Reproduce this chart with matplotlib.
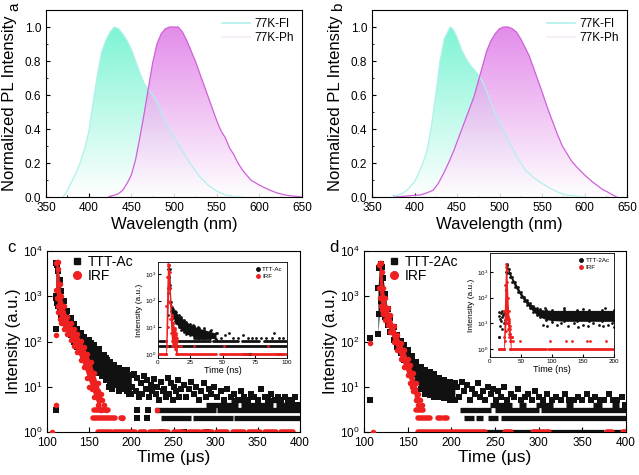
import numpy as np
import matplotlib
matplotlib.use('Agg')
import matplotlib.pyplot as plt
from matplotlib.colors import LinearSegmentedColormap
from matplotlib.lines import Line2D
from matplotlib.ticker import MultipleLocator, FormatStrFormatter, LogLocator, NullLocator

plt.rcParams['font.family'] = ['Liberation Sans', 'DejaVu Sans']
plt.rcParams['mathtext.fontset'] = 'custom'
plt.rcParams['mathtext.rm'] = 'Liberation Sans'

# ---------------- spectra (a, b) ----------------
a_fl_wl = [370, 375, 380, 385, 390, 395, 400, 405, 410, 415, 420, 425, 430, 435, 440, 445,
           450, 455, 460, 465, 470, 475, 480, 490, 500, 510, 520, 530, 540, 550, 560, 570, 580]
a_fl = [0.0, 0.04, 0.09, 0.14, 0.2, 0.28, 0.38, 0.55, 0.71, 0.85, 0.92, 0.97, 1.0, 0.99, 0.96, 0.92,
        0.87, 0.80, 0.73, 0.67, 0.63, 0.60, 0.56, 0.44, 0.35, 0.27, 0.19, 0.12, 0.07, 0.035, 0.012, 0.004, 0.0]
a_ph_wl = [423, 430, 435, 440, 445, 450, 455, 460, 465, 470, 475, 480, 485, 490, 495, 500, 505,
           510, 515, 520, 525, 530, 535, 540, 545, 550, 555, 560, 565, 570, 575, 580, 590, 600,
           610, 620, 630, 640, 650]
a_ph = [0.0, 0.01, 0.02, 0.04, 0.08, 0.13, 0.22, 0.35, 0.49, 0.64, 0.79, 0.90, 0.96, 0.99, 1.0, 1.0, 1.0,
        0.97, 0.92, 0.86, 0.80, 0.73, 0.66, 0.59, 0.52, 0.45, 0.39, 0.35, 0.29, 0.25, 0.20, 0.16, 0.10, 0.07,
        0.045, 0.025, 0.012, 0.005, 0.0]

b_fl_wl = [373, 380, 385, 390, 395, 400, 405, 410, 415, 420, 425, 430, 435, 442, 445, 450, 455, 460,
           465, 470, 475, 480, 485, 490, 495, 500, 510, 520, 530, 540, 550, 560, 570, 580, 590, 600]
b_fl = [0.0, 0.01, 0.02, 0.035, 0.06, 0.09, 0.14, 0.2, 0.28, 0.42, 0.6, 0.8, 0.93, 1.0, 0.99, 0.94, 0.87, 0.82,
        0.78, 0.75, 0.72, 0.68, 0.62, 0.55, 0.49, 0.44, 0.34, 0.24, 0.16, 0.115, 0.08, 0.05, 0.025, 0.01, 0.005, 0.0]
b_ph_wl = [377, 390, 400, 407, 415, 422, 428, 434, 440, 446, 452, 458, 464, 470, 475, 480, 485, 490,
           495, 500, 505, 510, 515, 520, 525, 530, 535, 540, 545, 550, 556, 562, 568, 574, 580, 585,
           591, 597, 603, 609, 615, 621, 627, 632, 638]
b_ph = [0.0, 0.005, 0.01, 0.012, 0.025, 0.04, 0.08, 0.137, 0.2, 0.27, 0.35, 0.43, 0.51, 0.59, 0.68, 0.77,
        0.86, 0.92, 0.96, 0.99, 1.0, 1.0, 0.99, 0.97, 0.93, 0.88, 0.83, 0.76, 0.69, 0.62, 0.53, 0.45, 0.37,
        0.30, 0.25, 0.21, 0.176, 0.145, 0.117, 0.09, 0.068, 0.045, 0.03, 0.015, 0.0]

# ---------------- decay c (TTT-Ac, main, us) ----------------
c_ac_band_t = [110.5, 112, 113.5, 115, 117, 120, 124, 128, 132, 136, 140, 144, 148, 152, 156, 160,
               165, 170, 175, 180, 185, 190, 195, 200]
c_ac_band_hi = [5500, 5000, 3600, 2300, 1300, 800, 470, 330, 240, 190, 155, 128, 108, 92, 75, 62,
                50, 43, 36, 30, 26, 23, 20, 18]
c_ac_band_lo = [900, 700, 600, 480, 380, 300, 200, 140, 100, 75, 58, 45, 36, 30, 25, 20,
                17, 14, 12, 11, 10, 9, 8, 7]
c_ac_sc_t = [110.5, 110.5, 110.5, 150, 156, 162, 168,
             171, 173, 175, 177, 179, 181, 183, 185, 187, 189, 191, 193, 195, 197, 199, 201, 203, 205, 207, 209,
             211, 213, 215, 217, 219, 221, 223, 225, 227, 229, 231, 233, 235, 237, 239, 241, 243, 245, 247,
             249, 251, 253, 255, 257, 259, 262, 265, 268, 271, 274, 277, 280, 283, 286, 289, 292, 295, 298,
             302, 306, 310, 314, 318, 322, 326, 330, 334, 338, 342, 346, 350, 354, 358, 362, 366, 370, 374,
             378, 382, 386, 390, 394, 398, 207, 218, 207, 220, 236, 262, 290]
c_ac_sc_y = [3, 190, 1000, 110, 85, 70, 50,
             40, 10, 32, 9, 27, 12, 25, 8, 22, 11, 20, 9, 24, 7, 18, 10, 19, 8, 16, 6,
             12, 7, 17, 9, 14, 6, 11, 8, 15, 7, 10, 5, 13, 8, 9, 6, 16, 7, 12,
             5, 10, 8, 14, 6, 9, 11, 6, 9, 13, 7, 10, 5, 8, 12, 6, 9, 7, 10,
             6, 8, 5, 9, 6, 7, 5, 8, 6, 5, 7, 6, 5, 9, 6, 5, 7, 5, 6,
             5, 6, 5, 5, 6, 4, 2, 2, 3, 3, 1, 1, 1]
c_ac_row_lvl = [2, 2, 2, 3, 3, 4, 4, 4, 5, 5]
c_ac_row_t0 = [235, 273, 322, 228, 302, 288, 330, 372, 318, 362]
c_ac_row_t1 = [271, 320, 400, 300, 400, 326, 368, 400, 340, 380]

c_irf_band_t = [110.5, 111.5, 112.5, 113.5, 115, 117, 120, 124, 128, 132, 136, 140, 144, 148, 152, 156, 160, 164]
c_irf_band_hi = [5500, 5600, 5600, 4000, 1900, 1000, 600, 340, 250, 190, 150, 105, 75, 52, 35, 20, 12, 7]
c_irf_band_lo = [1400, 900, 600, 450, 320, 250, 190, 150, 110, 80, 58, 40, 27, 16, 10, 6, 4, 3]
c_irf_sc_t = [110.5, 110.5, 105.5, 150, 153, 157, 160, 162, 165, 168, 170, 189, 230]
c_irf_sc_y = [4, 140, 1, 10, 9, 12, 8, 6, 5, 4, 3, 2, 3]
c_irf_row_lvl = [3, 2, 2, 1, 1, 1, 1, 1, 1, 1, 1, 1, 1, 1, 1]
c_irf_row_t0 = [156, 154, 188, 160, 180, 210, 222, 250, 268, 284, 302, 320, 340, 358, 378]
c_irf_row_t1 = [172, 181, 190, 176, 204, 216, 244, 262, 280, 296, 314, 334, 352, 372, 392]

# ---------------- decay d (TTT-2Ac, main, us) ----------------
d_ac_band_t = [116, 117.5, 119, 120.5, 122, 124, 127, 130, 134, 138, 142, 146, 150, 155, 160, 165, 170,
               175, 180, 186, 192, 198, 204]
d_ac_band_hi = [1500, 4200, 5200, 4500, 2500, 1100, 520, 330, 210, 140, 105, 82, 65, 48, 36, 28, 24,
                21, 19, 16, 14, 13, 12]
d_ac_band_lo = [150, 400, 800, 700, 500, 350, 230, 160, 110, 75, 55, 40, 30, 20, 13, 9, 7,
                6.5, 6, 6, 5.5, 5, 5]
d_ac_sc_t = [107, 107, 206, 209, 212, 215, 218, 221, 224, 227, 230, 233, 236, 239, 242, 245, 248, 251,
             254, 257, 260, 264, 268, 272, 276, 280, 284, 288, 292, 296, 300, 305, 310, 315, 320, 325,
             330, 335, 340, 345, 350, 355, 360, 365, 370, 375, 380, 385, 390, 395, 399]
d_ac_sc_y = [5, 117, 10, 6, 13, 8, 11, 5, 9, 7, 12, 6, 8, 5, 10, 7, 9, 5,
             8, 6, 10, 5, 7, 6, 9, 5, 6, 7, 5, 8, 6, 5, 7, 5, 6, 5,
             7, 5, 5, 6, 5, 7, 5, 6, 5, 5, 7, 5, 5, 6, 4]
d_ac_row_lvl = [2, 2, 2, 2, 3, 3, 3, 4, 4, 4, 4, 4, 4, 1, 1, 1]
d_ac_row_t0 = [215, 228, 242, 257, 210, 250, 303, 244, 278, 297, 331, 362, 384, 238, 310, 385]
d_ac_row_t1 = [226, 236, 253, 400, 245, 300, 400, 270, 285, 316, 339, 373, 392, 300, 375, 400]

d_irf_band_t = [117.5, 118.5, 119.5, 120.5, 122, 124, 127, 130, 134, 138, 142, 146, 150, 153, 156, 159, 162]
d_irf_band_hi = [5000, 5500, 5300, 3500, 1500, 900, 550, 380, 220, 140, 95, 65, 42, 30, 20, 12, 7]
d_irf_band_lo = [1500, 900, 600, 500, 400, 300, 230, 160, 100, 65, 42, 28, 18, 12, 8, 5, 4]
d_irf_sc_t = [107, 110, 155, 158, 161, 164, 166]
d_irf_sc_y = [95, 1, 10, 9, 6, 5, 4]
d_irf_row_lvl = [3, 2, 2, 2, 1, 1, 1, 1, 1, 1]
d_irf_row_t0 = [160, 162, 185, 192, 162, 262, 293, 303, 378, 396]
d_irf_row_t1 = [168, 176, 188, 195, 238, 268, 300, 312, 384, 400]

# ---------------- inset c (ns) ----------------
ci_ac_band_t = [7.5, 8, 8.5, 9, 9.5, 10, 11, 12, 13, 14, 16, 18, 20, 22, 25, 28, 32, 36, 40, 45]
ci_ac_band_hi = [300, 1500, 2200, 1500, 400, 90, 55, 48, 42, 36, 29, 24, 19, 16, 13, 11, 9, 8, 7, 6]
ci_ac_band_lo = [30, 200, 800, 300, 90, 40, 28, 22, 17, 14, 10, 8, 6.5, 5.5, 5, 4.5, 4, 4, 4, 3.5]
ci_ac_sc_t = [24, 27, 29, 31, 33, 36, 38, 41, 43, 46, 49, 52, 55, 58, 62, 66, 70, 73, 76, 80, 84, 88, 90, 94, 97]
ci_ac_sc_y = [9, 12, 8, 10, 7, 9, 6, 8, 5, 6, 4, 5, 6, 4, 4, 5, 4, 4, 4, 4, 4, 4, 6, 4, 4]
ci_ac_row_lvl = [2, 3, 3, 3, 3, 3, 4, 1, 1]
ci_ac_row_t0 = [1, 1, 15, 43, 65, 82, 28, 66, 92]
ci_ac_row_t1 = [100, 6, 40, 62, 78, 100, 40, 72, 96]

ci_irf_band_t = [6, 6.5, 7, 7.5, 8, 8.5, 9, 9.5, 10, 10.5, 11, 12, 13, 14, 15]
ci_irf_band_hi = [3, 60, 800, 1900, 2300, 2100, 1200, 300, 60, 30, 20, 14, 9, 6, 4]
ci_irf_band_lo = [1, 1, 2, 10, 100, 300, 80, 20, 6, 3, 2, 2, 1.5, 1, 1]
ci_irf_sc_t = [11, 12, 13, 14, 15, 16, 18, 28, 51, 85]
ci_irf_sc_y = [25, 15, 8, 5, 3, 2, 2, 2, 2, 2]
ci_irf_row_lvl = [1, 1, 1, 1]
ci_irf_row_t0 = [1, 15, 48, 72]
ci_irf_row_t1 = [6, 45, 70, 100]

# ---------------- inset d (ns) ----------------
di_ac_band_t = [25, 26, 27, 28, 30, 33, 36, 40, 45, 50, 55, 60, 65, 70, 75, 80, 90, 100, 120, 140, 160, 180, 200]
di_ac_band_hi = [200, 1000, 2000, 1900, 1300, 900, 620, 420, 260, 160, 110, 80, 60, 48, 40, 35, 33, 32, 32, 32, 32, 32, 32]
di_ac_band_lo = [20, 200, 900, 1300, 900, 620, 420, 270, 170, 110, 75, 52, 38, 28, 22, 18, 14, 13, 12, 12, 12, 12, 12]
di_ac_sc_t = [14, 15, 16, 17, 18, 19, 20, 21, 22, 23, 24, 14, 16, 20, 15, 14,
              85, 92, 100, 108, 115, 125, 135, 142, 150, 158, 166, 175, 182, 190, 197, 200, 88, 120, 150, 185]
di_ac_sc_y = [20, 28, 15, 25, 12, 30, 18, 22, 10, 26, 14, 3, 8, 6, 3, 1,
              9, 8, 11, 9, 10, 8, 10, 7, 9, 8, 10, 9, 8, 9, 10, 7, 40, 38, 36, 38]

di_irf_band_t = [22, 23, 24, 25, 26, 27, 28, 29, 30, 31, 32, 33, 34]
di_irf_band_hi = [3, 30, 300, 1500, 2000, 1200, 400, 100, 30, 15, 8, 4, 3]
di_irf_band_lo = [1, 1, 2, 5, 10, 15, 10, 6, 4, 3, 2, 1, 1]
di_irf_sc_t = [29, 30, 31, 32, 33, 35, 36, 34, 37, 48, 96, 123, 133, 156, 162, 187]
di_irf_sc_y = [18, 10, 12, 6, 4, 3, 3, 2, 2, 2, 2, 2, 2, 2, 2, 2]
di_irf_row_lvl = [1, 1, 1, 1]
di_irf_row_t0 = [14, 32, 93, 152]
di_irf_row_t1 = [22, 90, 150, 200]

FL_FILL = '#7ef4d4'
FL_LINE = '#b0f0ec'
PH_FILL = '#de78e6'
PH_LINE = '#d060da'
BLK = '#111111'
RED = '#ee2020'

W, H = 639, 475


def rect(l, t, r, b):
    return [l / W, 1 - b / H, (r - l) / W, (b - t) / H]


def grad_fill(ax, x, y, color, alpha, z):
    poly, = ax.fill(np.r_[x[0], x, x[-1]], np.r_[0, y, 0], facecolor='none', edgecolor='none')
    cmap = LinearSegmentedColormap.from_list('g', ['white', color])
    grad = np.linspace(0, 1, 256).reshape(-1, 1)
    im = ax.imshow(grad, extent=[x[0], x[-1], 0, 1.0], origin='lower', aspect='auto',
                   cmap=cmap, alpha=alpha, zorder=z)
    im.set_clip_path(poly)


def spectrum_panel(ax, fl_wl, fl, ph_wl, ph, letter, lx):
    grad_fill(ax, fl_wl, fl, FL_FILL, 1.0, 1)
    grad_fill(ax, ph_wl, ph, PH_FILL, 0.85, 2)
    ax.plot(fl_wl, fl, color=FL_LINE, lw=0.9, zorder=3)
    ax.plot(ph_wl, ph, color=PH_LINE, lw=0.9, zorder=3)
    ax.set_xlim(350, 650)
    ax.set_ylim(0, 1.1)
    ax.xaxis.set_major_locator(MultipleLocator(50))
    ax.xaxis.set_minor_locator(MultipleLocator(25))
    ax.yaxis.set_major_locator(MultipleLocator(0.2))
    ax.yaxis.set_minor_locator(MultipleLocator(0.1))
    ax.yaxis.set_major_formatter(FormatStrFormatter('%.1f'))
    ax.tick_params(which='both', direction='in', labelsize=8.5, top=False, right=False)
    ax.tick_params(which='major', length=3)
    ax.tick_params(which='minor', length=1.5)
    ax.set_xlabel('Wavelength (nm)', fontsize=12, labelpad=2)
    ax.set_ylabel('Normalized PL Intensity', fontsize=12, labelpad=3)
    ax.yaxis.set_label_coords(-0.115, 0.5)
    handles = [Line2D([], [], color=FL_LINE, lw=1.2), Line2D([], [], color='#f6eaf6', lw=1.2)]
    ax.legend(handles, ['77K-Fl', '77K-Ph'], loc='upper right', frameon=False, fontsize=8.5,
              handlelength=2.3, handletextpad=0.4, labelspacing=0.15, borderaxespad=0.3)
    fig.text(lx / W, 1 - 7 / H, letter, fontsize=11, rotation=90, ha='center', va='center')


def decay(ax, bt, blo, bhi, st, sy, rl, r0, r1, color, marker, ms, z):
    ax.fill_between(bt, blo, bhi, color=color, lw=0, zorder=z)
    ax.plot(bt, bhi, marker, color=color, ms=ms, mew=0, zorder=z)
    ax.plot(bt, blo, marker, color=color, ms=ms, mew=0, zorder=z)
    ax.plot(st, sy, marker, color=color, ms=ms, mew=0, ls='none', zorder=z)
    if rl:
        lc = ax.hlines(rl, r0, r1, colors=color, lw=ms, zorder=z)
        lc.set_capstyle('round' if marker == 'o' else 'butt')


def log_axis(ax, xstep, labelsize):
    ax.set_yscale('log')
    ax.yaxis.set_major_locator(LogLocator(base=10, numticks=10))
    ax.yaxis.set_minor_locator(NullLocator())
    ax.xaxis.set_major_locator(MultipleLocator(xstep))
    ax.tick_params(which='both', direction='in', labelsize=labelsize, top=False, right=False)


fig = plt.figure(figsize=(W / 100, H / 100), dpi=100)

ax_a = fig.add_axes(rect(46, 10, 302, 197))
spectrum_panel(ax_a, a_fl_wl, a_fl, a_ph_wl, a_ph, 'a', 14)
ax_b = fig.add_axes(rect(372, 10, 627, 197))
spectrum_panel(ax_b, b_fl_wl, b_fl, b_ph_wl, b_ph, 'b', 338)

panels = [
    (rect(47, 251, 300, 432), 'TTT-Ac', 'c', 11,
     (c_ac_band_t, c_ac_band_lo, c_ac_band_hi, c_ac_sc_t, c_ac_sc_y, c_ac_row_lvl, c_ac_row_t0, c_ac_row_t1),
     (c_irf_band_t, c_irf_band_lo, c_irf_band_hi, c_irf_sc_t, c_irf_sc_y, c_irf_row_lvl, c_irf_row_t0, c_irf_row_t1),
     rect(158, 262, 287, 358), 100, 25, (0.7, 2800),
     (ci_ac_band_t, ci_ac_band_lo, ci_ac_band_hi, ci_ac_sc_t, ci_ac_sc_y, ci_ac_row_lvl, ci_ac_row_t0, ci_ac_row_t1),
     (ci_irf_band_t, ci_irf_band_lo, ci_irf_band_hi, ci_irf_sc_t, ci_irf_sc_y, ci_irf_row_lvl, ci_irf_row_t0, ci_irf_row_t1)),
    (rect(364, 251, 626, 432), 'TTT-2Ac', 'd', 334,
     (d_ac_band_t, d_ac_band_lo, d_ac_band_hi, d_ac_sc_t, d_ac_sc_y, d_ac_row_lvl, d_ac_row_t0, d_ac_row_t1),
     (d_irf_band_t, d_irf_band_lo, d_irf_band_hi, d_irf_sc_t, d_irf_sc_y, d_irf_row_lvl, d_irf_row_t0, d_irf_row_t1),
     rect(490, 253, 614, 357), 200, 50, (0.49, 5500),
     (di_ac_band_t, di_ac_band_lo, di_ac_band_hi, di_ac_sc_t, di_ac_sc_y, [], [], []),
     (di_irf_band_t, di_irf_band_lo, di_irf_band_hi, di_irf_sc_t, di_irf_sc_y, di_irf_row_lvl, di_irf_row_t0, di_irf_row_t1)),
]

for pos, name, letter, lx, ac, irf, ipos, ixmax, ixstep, iylim, iac, iirf in panels:
    ax = fig.add_axes(pos)
    decay(ax, *ac, BLK, 's', 3.8, 2)
    decay(ax, *irf, RED, 'o', 4.0, 3)
    ax.set_xlim(100, 400)
    ax.set_ylim(1, 1e4)
    log_axis(ax, 50, 8.5)
    ax.set_xlabel('Time (μs)', fontsize=12.5, labelpad=1)
    ax.set_ylabel('Intensity (a.u.)', fontsize=12, labelpad=1)
    handles = [Line2D([], [], color=BLK, marker='s', ls='none', ms=5),
               Line2D([], [], color=RED, marker='o', ls='none', ms=5.5)]
    ax.legend(handles, [name, 'IRF'], loc='upper left', bbox_to_anchor=(0.035, 1.045), frameon=False,
              fontsize=10, handletextpad=0.2, labelspacing=0.0, handlelength=1.2)
    fig.text(lx / W, 1 - 248 / H, letter, fontsize=12, ha='center', va='center')

    ins = fig.add_axes(ipos)
    decay(ins, *iac, BLK, 'o', 2.0, 2)
    decay(ins, *iirf, RED, 'o', 2.0, 3)
    ins.set_xlim(0, ixmax)
    ins.set_ylim(*iylim)
    log_axis(ins, ixstep, 4.5)
    ins.tick_params(length=2, pad=1.5)
    ins.set_xlabel('Time (ns)', fontsize=6.5, labelpad=1)
    ins.set_ylabel('Intensity (a.u.)', fontsize=6, labelpad=1)
    for s in ins.spines.values():
        s.set_linewidth(0.6)
    ih = [Line2D([], [], color=BLK, marker='o', ls='none', ms=2.5),
          Line2D([], [], color=RED, marker='o', ls='none', ms=2.5)]
    ins.legend(ih, [name, 'IRF'], loc='upper right', frameon=False, fontsize=4.5,
               handletextpad=0.2, labelspacing=0.3, borderaxespad=0.3, handlelength=1.0)

fig.savefig('out.png', dpi=100)
